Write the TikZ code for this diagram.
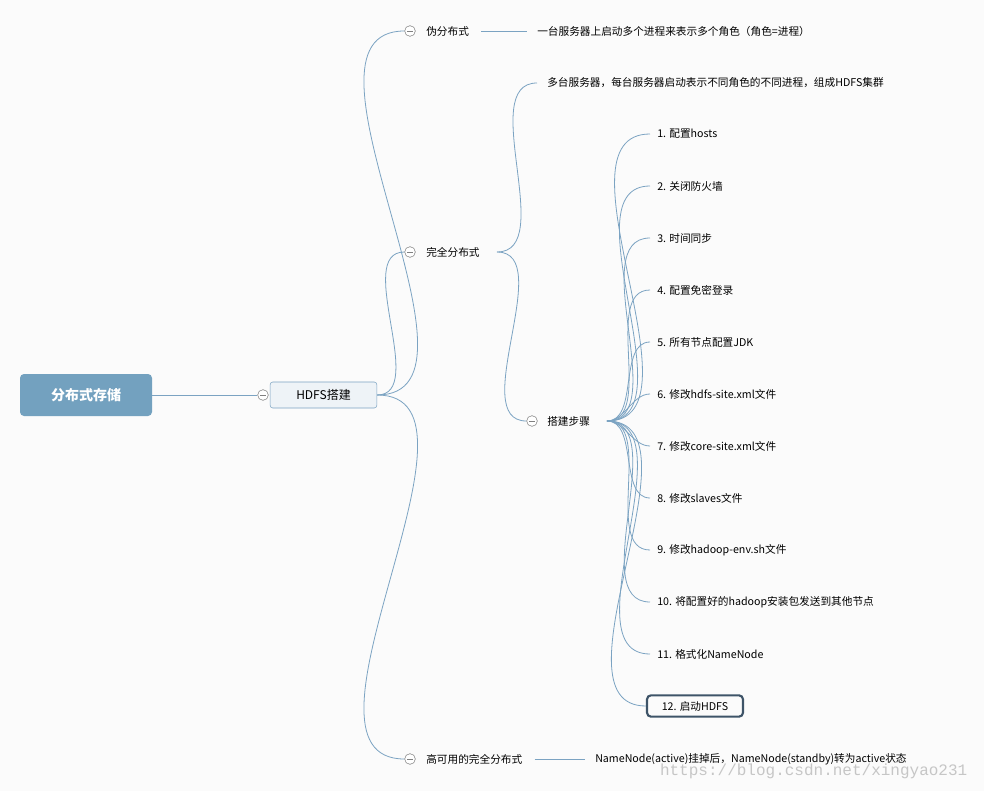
\documentclass[tikz,border=0pt]{standalone}
\usepackage{fontspec}
\setmainfont{Noto Sans CJK SC}
\newfontfamily\wmfont{Liberation Mono}
\usetikzlibrary{calc}
\definecolor{edge}{HTML}{7BA3C2}
\definecolor{rootfill}{HTML}{73A1BF}
\definecolor{hdfsfill}{HTML}{EEF3F7}
\definecolor{dark}{HTML}{3E5468}
\tikzset{t/.style={font=\fontsize{8}{8}\selectfont,anchor=west,inner sep=0pt}}
\tikzset{fold/.style={circle,draw=gray,fill=white,minimum size=8pt,inner sep=0pt,path picture={\draw[gray] ($(path picture bounding box.west)+(2pt,0)$)--($(path picture bounding box.east)+(-2pt,0)$);}}}
\tikzset{link/.style={edge,line width=0.6pt}}
\begin{document}
\begin{tikzpicture}[x=0.75pt,y=-0.75pt]
  \fill[white!97!gray] (0,0) rectangle (984,791);
  \useasboundingbox (0,0) rectangle (984,791);
  \node[fill=rootfill,rounded corners=3pt,minimum width=99pt,minimum height=31.5pt,text=white,font=\fontsize{10.5}{10.5}\selectfont\bfseries] (root) at (86,395) {分布式存储};
  \node[fill=hdfsfill,draw=edge,rounded corners=2pt,minimum width=80pt,minimum height=19.5pt,font=\fontsize{9}{9}\selectfont] (hdfs) at (323.5,395) {HDFS搭建};
  \node[fold] (c0) at (263,395) {};
  \draw[link] (root.east) -- (c0);
  % level one
  \node[fold] (c1) at (410,31) {};
  \node[t] (pseudo) at (426,31) {伪分布式};
  \node[fold] (c2) at (410,252) {};
  \node[t] (full) at (426,252) {完全分布式};
  \node[fold] (c3) at (410,759) {};
  \node[t] (ha) at (426,759) {高可用的完全分布式};
  \foreach \c in {c1,c2,c3}
    \draw[link] (hdfs.east) to[out=0,in=180,looseness=0.9] (\c.west);
  \node[t] (pseudoinfo) at (537,31) {一台服务器上启动多个进程来表示多个角色（角色=进程）};
  \draw[link] (pseudo.east) ++(12,0) -- ($(pseudoinfo.west)+(-10,0)$);
  \node[t] (hainfo) at (595,759) {NameNode(active)挂掉后，NameNode(standby)转为active状态};
  \draw[link] (ha.east) ++(12,0) -- ($(hainfo.west)+(-10,0)$);
  % full distribution
  \coordinate (fullend) at (497,252);
  \node[t] (multi) at (547,83) {多台服务器，每台服务器启动表示不同角色的不同进程，组成HDFS集群};
  \node[fold] (c4) at (532,421) {};
  \node[t] (steps) at (547,421) {搭建步骤};
  \draw[link] (fullend) to[out=0,in=180,looseness=0.9] ($(multi.west)+(-10,0)$);
  \draw[link] (fullend) to[out=0,in=180,looseness=0.9] (c4.west);
  \coordinate (stepsend) at (607,421);
  \foreach \i/\txt in {1/1. 配置hosts,2/2. 关闭防火墙,3/3. 时间同步,4/4. 配置免密登录,5/5. 所有节点配置JDK,6/6. 修改hdfs-site.xml文件,7/7. 修改core-site.xml文件,8/8. 修改slaves文件,9/9. 修改hadoop-env.sh文件,10/10. 将配置好的hadoop安装包发送到其他节点,11/11. 格式化NameNode}{
    \node[t] (s\i) at (657,82+52*\i) {\txt};
    \draw[link] (stepsend) to[out=0,in=180,looseness=0.9] ($(s\i.west)+(-7,0)$);
  }
  \node[draw=dark,line width=1.6pt,rounded corners=3pt,minimum width=72pt,minimum height=16pt,font=\fontsize{8}{8}\selectfont] (s12) at (695,706) {12. 启动HDFS};
  \draw[link] (stepsend) to[out=0,in=180,looseness=0.9] (s12.west);
  \node[anchor=east,text=gray!45,font=\wmfont\fontsize{12}{12}\selectfont] (mark) at (972,771) {https://blog.csdn.net/xingyao231};
\end{tikzpicture}
\end{document}
